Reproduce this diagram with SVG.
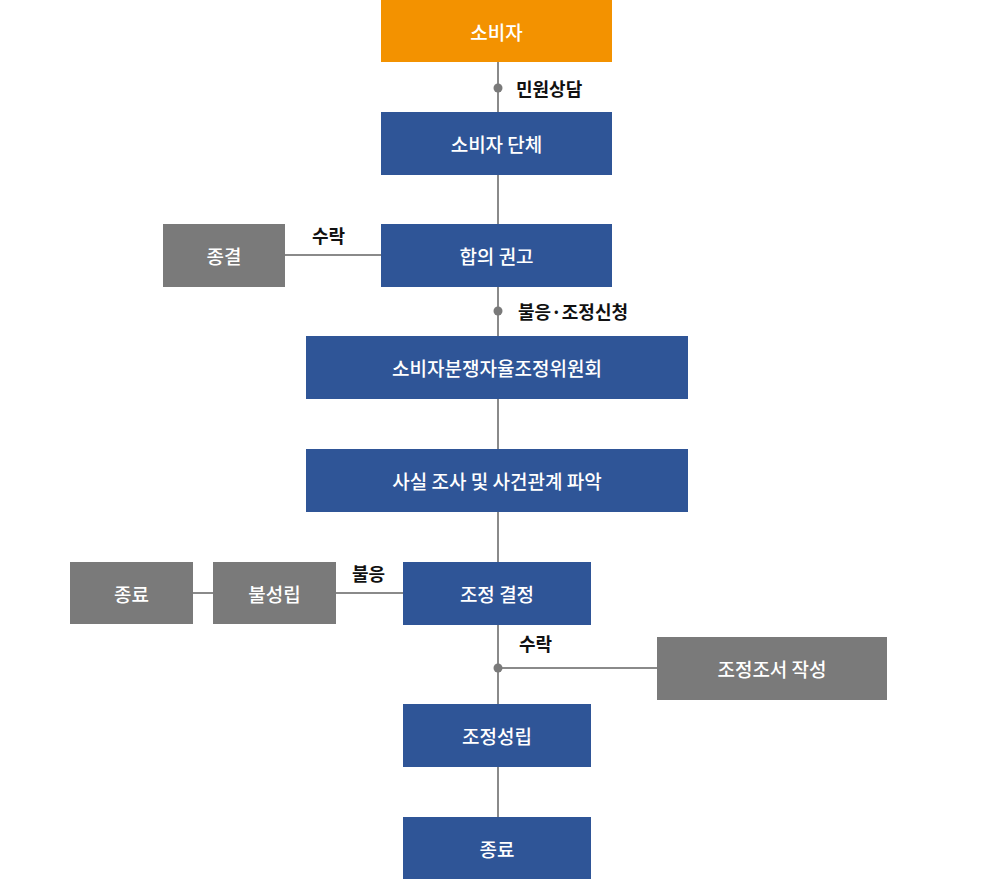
<svg xmlns="http://www.w3.org/2000/svg" width="1000" height="879" viewBox="0 0 1000 879">
<style>
.b{fill:#2f5597}.g{fill:#7a7a7a}.o{fill:#f39200}
.t{fill:#fff;font-family:"Noto Sans CJK KR","Noto Sans",sans-serif;font-size:19px;font-weight:500;text-anchor:middle;dominant-baseline:central}
.l{fill:#111;font-family:"Noto Sans CJK KR","Noto Sans",sans-serif;font-size:18px;font-weight:700;dominant-baseline:central}
.c{stroke:#8a8a8a;stroke-width:2;fill:none}
</style>
<rect width="1000" height="879" fill="#fff"/>
<g id="connectors">
<path class="c" d="M498 62V817M285 255H381M193 593H213M336 593H403M498 668H657"/>
<circle cx="498" cy="88" r="4.5" fill="#7a7a7a"/>
<circle cx="498" cy="311" r="4.5" fill="#7a7a7a"/>
<circle cx="498" cy="668" r="4.5" fill="#7a7a7a"/>
<text class="l" x="516" y="88">민원상담</text>
<text class="l" x="312" y="235">수락</text>
<text class="l" x="518" y="311">불응·조정신청</text>
<text class="l" x="352" y="573">불응</text>
<text class="l" x="519" y="643">수락</text>
</g>
<g id="n1"><rect class="o" x="381" y="0" width="231" height="62"/><text class="t" x="496.5" y="31">소비자</text></g>
<g id="n2"><rect class="b" x="381" y="112" width="231" height="63"/><text class="t" x="496.5" y="143.5">소비자 단체</text></g>
<g id="n3"><rect class="b" x="381" y="224" width="231" height="63"/><text class="t" x="496.5" y="255.5">합의 권고</text></g>
<g id="n4"><rect class="g" x="163" y="224" width="122" height="63"/><text class="t" x="224" y="255.5">종결</text></g>
<g id="n5"><rect class="b" x="306" y="336" width="382" height="63"/><text class="t" x="497" y="367.5">소비자분쟁자율조정위원회</text></g>
<g id="n6"><rect class="b" x="306" y="449" width="382" height="63"/><text class="t" x="497" y="480.5">사실 조사 및 사건관계 파악</text></g>
<g id="n7"><rect class="b" x="403" y="562" width="188" height="63"/><text class="t" x="497" y="593.5">조정 결정</text></g>
<g id="n8"><rect class="g" x="213" y="562" width="123" height="62"/><text class="t" x="274.5" y="593">불성립</text></g>
<g id="n9"><rect class="g" x="70" y="562" width="123" height="62"/><text class="t" x="131.5" y="593">종료</text></g>
<g id="n10"><rect class="g" x="657" y="637" width="230" height="63"/><text class="t" x="772" y="668.5">조정조서 작성</text></g>
<g id="n11"><rect class="b" x="403" y="704" width="188" height="63"/><text class="t" x="497" y="735.5">조정성립</text></g>
<g id="n12"><rect class="b" x="403" y="817" width="188" height="62"/><text class="t" x="497" y="848">종료</text></g>
</svg>
